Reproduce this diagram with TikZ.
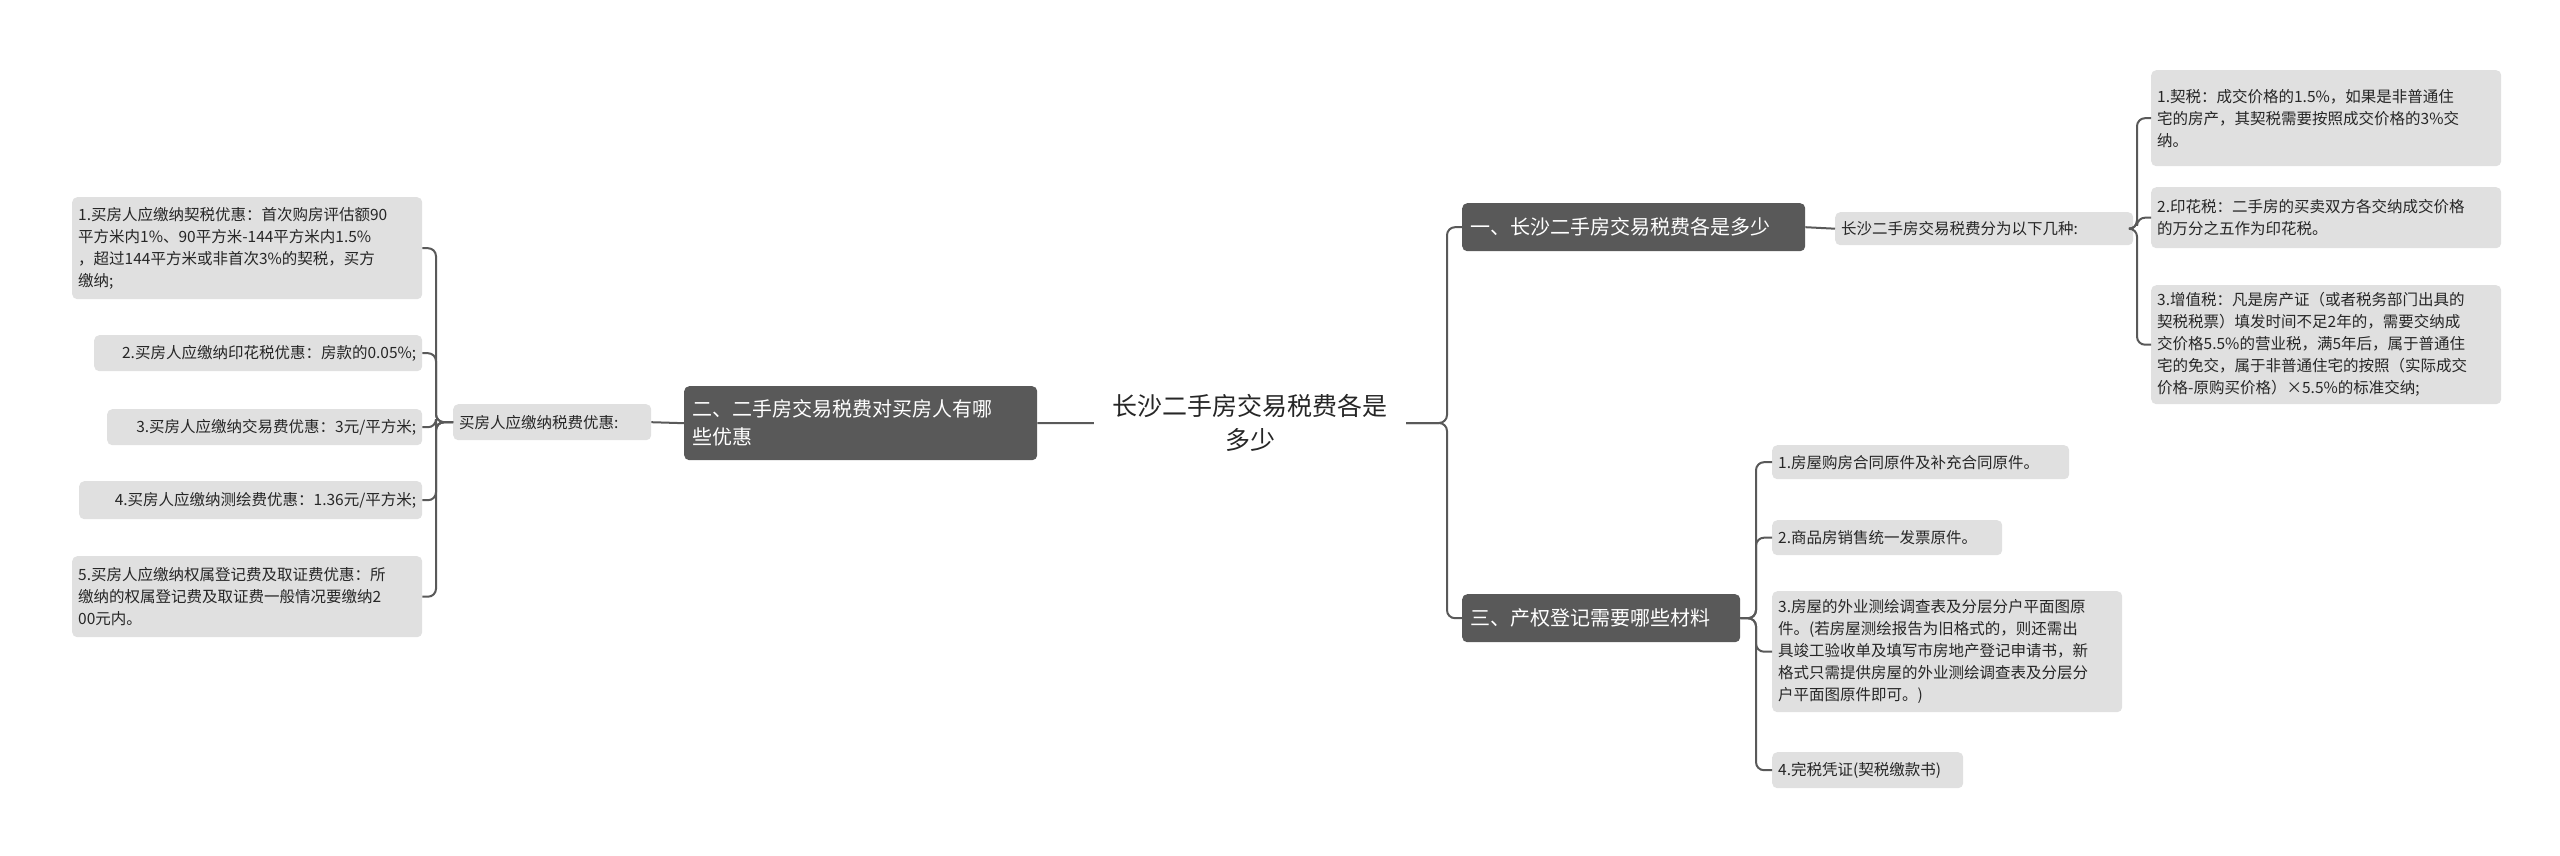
\documentclass[tikz,border=0pt]{standalone}
\usepackage{fontspec}
\setmainfont{Noto Sans CJK SC}
\begin{document}
\begin{tikzpicture}[x=1pt,y=-1pt,
 leaf/.style={draw=none,fill=black!12,rounded corners=5pt,anchor=north west,inner xsep=6pt,inner ysep=0pt,align=left,font=\fontsize{15.5}{22}\selectfont,text=black!85},
 dark/.style={fill=black!65,rounded corners=5pt,anchor=north west,inner xsep=8pt,inner ysep=0pt,align=left,font=\fontsize{20}{28}\selectfont,text=white},
 conn/.style={draw=black!65,line width=2pt,rounded corners=8pt}]
\useasboundingbox (0,0) rectangle (2560,856);
\newcommand\bx[6]{\node[#1,text width=#4-#2-(#1=="dark"?16:12),minimum height=#5-#3] (#6) at (#2,#3) {};}
% center
\node[font=\fontsize{25}{34}\selectfont,align=center,text=black!85] (c) at (1250,423) {长沙二手房交易税费各是\\多少};
% left branch
\node[dark,text width=337pt,minimum height=74pt] (L) at (684,386) {二、二手房交易税费对买房人有哪\\些优惠};
\node[leaf,text width=186pt,minimum height=36pt] (Ls) at (453,404) {买房人应缴纳税费优惠:};
\node[leaf,text width=338pt,minimum height=102pt] (L1) at (72,197) {1.买房人应缴纳契税优惠：首次购房评估额90\\平方米内1\%、90平方米-144平方米内1.5\%\\，超过144平方米或非首次3\%的契税，买方\\缴纳;};
\node[leaf,text width=316pt,minimum height=36pt,align=right] (L2) at (94,335) {2.买房人应缴纳印花税优惠：房款的0.05\%;};
\node[leaf,text width=303pt,minimum height=36pt,align=right] (L3) at (107,409) {3.买房人应缴纳交易费优惠：3元/平方米;};
\node[leaf,text width=331pt,minimum height=38pt,align=right] (L4) at (79,481) {4.买房人应缴纳测绘费优惠：1.36元/平方米;};
\node[leaf,text width=338pt,minimum height=81pt] (L5) at (72,556) {5.买房人应缴纳权属登记费及取证费优惠：所\\缴纳的权属登记费及取证费一般情况要缴纳2\\00元内。};
\coordinate (lb) at (436,0);
\draw[conn] (c.west) ++(-15,0) coordinate (cw) -- (L.east);
\draw[conn] (L.west) -- (Ls.east);
\foreach \n in {L1,L2,L3,L4,L5} \draw[conn] (Ls.west) -- (Ls.west -| lb) |- (\n.east);
% right
\node[dark,text width=327pt,minimum height=48pt] (R1) at (1462,203) {一、长沙二手房交易税费各是多少};
\node[leaf,text width=286pt,minimum height=33pt] (R1s) at (1835,212) {长沙二手房交易税费分为以下几种:};
\node[leaf,text width=338pt,minimum height=96pt] (A1) at (2151,70) {1.契税：成交价格的1.5\%，如果是非普通住\\宅的房产，其契税需要按照成交价格的3\%交\\纳。};
\node[leaf,text width=338pt,minimum height=61pt] (A2) at (2151,187) {2.印花税：二手房的买卖双方各交纳成交价格\\的万分之五作为印花税。};
\node[leaf,text width=338pt,minimum height=119pt] (A3) at (2151,285) {3.增值税：凡是房产证（或者税务部门出具的\\契税税票）填发时间不足2年的，需要交纳成\\交价格5.5\%的营业税，满5年后，属于普通住\\宅的免交，属于非普通住宅的按照（实际成交\\价格-原购买价格）×5.5\%的标准交纳;};
\node[dark,text width=262pt,minimum height=48pt] (R3) at (1462,594) {三、产权登记需要哪些材料};
\node[leaf,text width=285pt,minimum height=34pt] (B1) at (1772,445) {1.房屋购房合同原件及补充合同原件。};
\node[leaf,text width=218pt,minimum height=35pt] (B2) at (1772,520) {2.商品房销售统一发票原件。};
\node[leaf,text width=338pt,minimum height=121pt] (B3) at (1772,591) {3.房屋的外业测绘调查表及分层分户平面图原\\件。(若房屋测绘报告为旧格式的，则还需出\\具竣工验收单及填写市房地产登记申请书，新\\格式只需提供房屋的外业测绘调查表及分层分\\户平面图原件即可。)};
\node[leaf,text width=179pt,minimum height=36pt] (B4) at (1772,752) {4.完税凭证(契税缴款书)};
\coordinate (rb) at (1447,0);
\coordinate (ab) at (2137,0);
\coordinate (bb) at (1756,0);
\foreach \n in {R1,R3} \draw[conn] (c.east) ++(15,0) -- (rb |- c.east) |- (\n.west);
\draw[conn] (R1.east) -- (R1s.west);
\foreach \n in {A1,A2,A3} \draw[conn] (R1s.east) -- (R1s.east -| ab) |- (\n.west);
\foreach \n in {B1,B2,B3,B4} \draw[conn] (R3.east) -- (R3.east -| bb) |- (\n.west);
\end{tikzpicture}
\end{document}
